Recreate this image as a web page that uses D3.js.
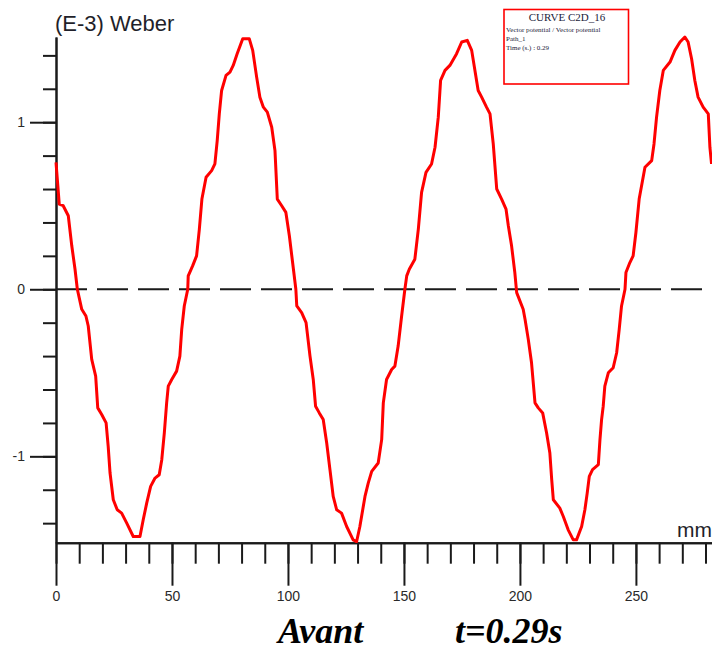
<!DOCTYPE html>
<html>
<head>
<meta charset="utf-8">
<script src="https://cdn.jsdelivr.net/npm/d3@7"></script>
<style>
  body { margin: 0; background: #fff; }
  .axis path, .axis line { stroke: #1a1a1a; stroke-width: 2; }
  .axis text { font-family: "Liberation Sans", Arial, sans-serif; font-size: 14px; fill: #2a2a2a; }
</style>
</head>
<body>
<div id="chart"></div>
<script>
// position along the path (mm)
var positionMm = [0, 1.4, 3.1, 5.3, 6.8, 8.2, 9.2, 11.1, 12.9, 13.9, 15.4, 17.1, 18.0, 19.7, 21.6,
  22.5, 23.3, 24.7, 26.4, 28.3, 30.5, 33.3, 36.2, 37.6, 39.1, 40.8, 42.7, 44.5, 45.6, 46.7,
  47.7, 48.4, 49.9, 52.0, 53.4, 54.2, 55.3, 56.8, 57.0, 58.9, 60.6, 61.8, 62.9, 64.7, 67.1,
  68.5, 69.5, 70.4, 71.4, 73.3, 75.0, 76.4, 78.1, 80.5, 83.3, 84.8, 86.5, 87.9, 89.4, 91.1,
  93.0, 94.4, 95.4, 97.3, 99.1, 100.6, 102.0, 103.4, 103.8, 105.9, 107.8, 109.5, 110.9, 111.9,
  113.5, 115.2, 116.7, 118.1, 119.5, 121.0, 123.1, 125.3, 128.1, 129.6, 131.0, 133.2, 134.6,
  136.1, 138.9, 140.4, 141.1, 142.5, 144.7, 146.1, 147.5, 149.0, 150.4, 151.2, 152.3, 154.7,
  156.2, 157.6, 159.5, 161.9, 163.4, 164.8, 165.8, 167.7, 169.8, 172.7, 174.9, 177.3, 179.2,
  180.6, 182.0, 183.5, 185.6, 187.1, 188.5, 190.0, 192.1, 194.0, 195.0, 196.4, 197.8, 198.6,
  201.4, 202.2, 203.6, 205.0, 206.5, 207.9, 209.8, 211.5, 212.9, 213.7, 214.4, 217.2, 218.7,
  220.8, 223.0, 224.4, 226.6, 228.0, 229.0, 229.9, 231.3, 233.8, 234.5, 235.2, 235.9, 236.6,
  238.1, 240.2, 241.7, 242.8, 243.8, 245.3, 245.7, 247.4, 248.8, 250.0, 251.4, 253.9, 256.8,
  257.8, 258.9, 260.3, 261.8, 264.7, 266.8, 269.0, 271.1, 272.5, 274.0, 275.4, 276.8, 279.0,
  281.2, 281.9, 282.6];

// flux in (E-3) Weber
var fluxValues = [0.76, 0.51, 0.50, 0.44, 0.26, 0.12, 0, -0.12, -0.16, -0.22, -0.42, -0.52, -0.71, -0.75, -0.80,
  -0.94, -1.10, -1.26, -1.32, -1.34, -1.40, -1.48, -1.48, -1.38, -1.28, -1.18, -1.13, -1.11, -1.02, -0.86,
  -0.68, -0.58, -0.54, -0.49, -0.40, -0.24, -0.10, 0, 0.08, 0.14, 0.20, 0.36, 0.54, 0.67, 0.71,
  0.75, 0.89, 1.05, 1.19, 1.28, 1.30, 1.34, 1.41, 1.50, 1.50, 1.43, 1.27, 1.15, 1.09, 1.06,
  0.97, 0.83, 0.54, 0.50, 0.46, 0.32, 0.16, 0, -0.10, -0.14, -0.20, -0.40, -0.54, -0.70,
  -0.74, -0.78, -0.92, -1.08, -1.24, -1.32, -1.34, -1.42, -1.50, -1.51, -1.42, -1.24, -1.16,
  -1.09, -1.04, -0.90, -0.68, -0.54, -0.48, -0.46, -0.34, -0.16, 0, 0.08, 0.12, 0.18,
  0.36, 0.58, 0.70, 0.75, 0.85, 1.03, 1.25, 1.31, 1.34, 1.41, 1.48, 1.49, 1.43,
  1.31, 1.19, 1.15, 1.09, 1.05, 0.87, 0.60, 0.54, 0.48, 0.38, 0.26, 0.10, -0.02,
  -0.12, -0.18, -0.30, -0.44, -0.68, -0.71, -0.74, -0.86, -0.98, -1.14, -1.26, -1.31, -1.36,
  -1.44, -1.50, -1.50, -1.42, -1.32, -1.22, -1.12, -1.08, -1.05, -0.90, -0.78, -0.70, -0.58,
  -0.50, -0.47, -0.38, -0.24, -0.10, 0, 0.10, 0.16, 0.20, 0.34, 0.54, 0.73, 0.77,
  0.87, 1.03, 1.19, 1.31, 1.36, 1.43, 1.48, 1.51, 1.48, 1.38, 1.25, 1.15, 1.09,
  1.05, 0.85, 0.75];

var xMajorTicks = [0, 50, 100, 150, 200, 250];
var xMinorTicks = [0, 10, 20, 30, 40, 50, 60, 70, 80, 90, 100, 110, 120, 130, 140, 150, 160, 170,
  180, 190, 200, 210, 220, 230, 240, 250, 260, 270, 280];
var yMajorTicks = [-1, 0, 1];
var yMinorTicks = [-1.4, -1.2, -1, -0.8, -0.6, -0.4, -0.2, 0, 0.2, 0.4, 0.6, 0.8, 1, 1.2, 1.4];

var legendLines = ["Vector potential / Vector potential", "Path_1", "Time (s.) : 0.29"];

var svgWidth = 712;
var svgHeight = 652;

var svg = d3.select("#chart")
  .append("svg")
  .attr("width", svgWidth)
  .attr("height", svgHeight)
  .style("background", "#fff");

var xScale = d3.scaleLinear()
  .domain([0, 282.8])
  .range([56, 712]);

var yScale = d3.scaleLinear()
  .domain([-1.517, 1.51])
  .range([542.7, 37]);

// plain hyphen for negatives, like the original
var plainFormat = d => String(d);

// zero line, dashed
svg.append("line")
  .attr("x1", xScale(0))
  .attr("x2", svgWidth)
  .attr("y1", yScale(0))
  .attr("y2", yScale(0))
  .attr("stroke", "#1a1a1a")
  .attr("stroke-width", 2)
  .attr("stroke-dasharray", "31,10");

// y axis: minor ticks then labelled major ticks
svg.append("g")
  .attr("class", "axis")
  .attr("transform", `translate(${xScale(0)},0)`)
  .call(d3.axisLeft(yScale).tickValues(yMinorTicks).tickSize(13).tickSizeOuter(0).tickFormat(""));

svg.append("g")
  .attr("class", "axis")
  .attr("transform", `translate(${xScale(0)},0)`)
  .call(d3.axisLeft(yScale).tickValues(yMajorTicks).tickSize(26).tickSizeOuter(0).tickPadding(5)
    .tickFormat(plainFormat));

// x axis
svg.append("g")
  .attr("class", "axis")
  .attr("transform", `translate(0,${yScale.range()[0]})`)
  .call(d3.axisBottom(xScale).tickValues(xMinorTicks).tickSize(21).tickSizeOuter(0).tickFormat(""));

svg.append("g")
  .attr("class", "axis")
  .attr("transform", `translate(0,${yScale.range()[0]})`)
  .call(d3.axisBottom(xScale).tickValues(xMajorTicks).tickSize(43).tickSizeOuter(0).tickPadding(5)
    .tickFormat(plainFormat));

// the curve
var lineData = positionMm.map((d, i) => [d, fluxValues[i]]);

var line = d3.line()
  .x(d => xScale(d[0]))
  .y(d => yScale(d[1]));

svg.append("path")
  .datum(lineData)
  .attr("d", line)
  .attr("fill", "none")
  .attr("stroke", "#ff0000")
  .attr("stroke-width", 3)
  .attr("stroke-linejoin", "round");

// axis titles
svg.append("text")
  .attr("x", 55)
  .attr("y", 31)
  .style("font-family", "Liberation Sans, Arial, sans-serif")
  .style("font-size", "22px")
  .style("fill", "#1f1f2a")
  .text("(E-3) Weber");

svg.append("text")
  .attr("x", 677)
  .attr("y", 537)
  .style("font-family", "Liberation Sans, Arial, sans-serif")
  .style("font-size", "21px")
  .style("fill", "#1f1f2a")
  .text("mm");

// legend box
var legend = svg.append("g");

legend.append("rect")
  .attr("x", 504)
  .attr("y", 9.5)
  .attr("width", 124.5)
  .attr("height", 74.5)
  .attr("fill", "#fff")
  .attr("stroke", "#ff0000")
  .attr("stroke-width", 1.6);

legend.append("text")
  .attr("x", 567)
  .attr("y", 21)
  .attr("text-anchor", "middle")
  .style("font-family", "Liberation Serif, Times New Roman, serif")
  .style("font-size", "11px")
  .style("fill", "#22223a")
  .text("CURVE C2D_16");

legend.selectAll(".leg-line")
  .data(legendLines)
  .enter()
  .append("text")
  .attr("class", "leg-line")
  .attr("x", 506)
  .attr("y", (d, i) => 32 + i * 9)
  .style("font-family", "Liberation Serif, Times New Roman, serif")
  .style("font-size", "7px")
  .style("fill", "#22223a")
  .text(d => d);

// caption below the chart
svg.append("text")
  .attr("x", 278)
  .attr("y", 643)
  .style("font-family", "Liberation Serif, Times New Roman, serif")
  .style("font-size", "36px")
  .style("font-weight", "bold")
  .style("font-style", "italic")
  .text("Avant");

svg.append("text")
  .attr("x", 455)
  .attr("y", 643)
  .style("font-family", "Liberation Serif, Times New Roman, serif")
  .style("font-size", "36px")
  .style("font-weight", "bold")
  .style("font-style", "italic")
  .text("t=0.29s");
</script>
</body>
</html>
